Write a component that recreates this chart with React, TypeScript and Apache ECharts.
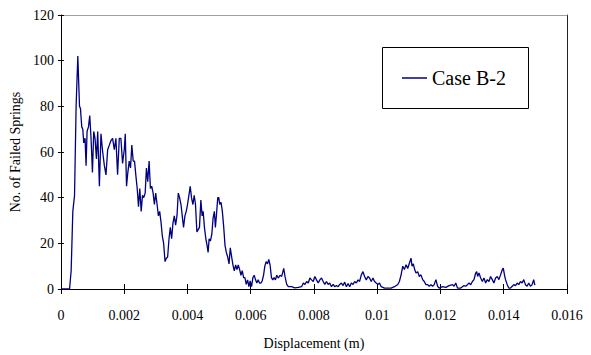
import React, { useEffect, useRef } from "react";
import * as echarts from "echarts";

// Displacement (m) at each sample
const displacement = [
  0, 0.000274, 0.000324, 0.000377, 0.000431, 0.000481, 0.000535, 0.000588, 0.00062, 0.000638,
  0.00066, 0.000692, 0.000723, 0.000764, 0.000796, 0.000827, 0.000871, 0.000912, 0.000953, 0.000997,
  0.001038, 0.001079, 0.001123, 0.001164, 0.001217, 0.001267, 0.001321, 0.001374, 0.001425, 0.001478,
  0.001531, 0.001582, 0.001635, 0.001689, 0.001739, 0.001792, 0.001846, 0.001896, 0.00195, 0.002003,
  0.002035, 0.002075, 0.002116, 0.00216, 0.002201, 0.002242, 0.002286, 0.002327, 0.002368, 0.002412,
  0.002453, 0.002494, 0.002538, 0.002579, 0.00262, 0.002664, 0.002704, 0.002745, 0.002789, 0.00283,
  0.002871, 0.002915, 0.002956, 0.002997, 0.003041, 0.003082, 0.003123, 0.003167, 0.003208, 0.003248,
  0.003292, 0.003333, 0.003374, 0.003418, 0.003459, 0.0035, 0.003544, 0.003585, 0.003626, 0.00367,
  0.003711, 0.003752, 0.003796, 0.003836, 0.003877, 0.003921, 0.003962, 0.004003, 0.004047, 0.004088,
  0.004129, 0.004173, 0.004214, 0.004255, 0.004299, 0.00434, 0.004381, 0.004425, 0.004465, 0.004497,
  0.004538, 0.004582, 0.004623, 0.004654, 0.004686, 0.004727, 0.004771, 0.004811, 0.004852, 0.004884,
  0.004915, 0.004959, 0.004991, 0.005022, 0.005063, 0.005104, 0.005148, 0.005189, 0.00523, 0.005274,
  0.005315, 0.005355, 0.005399, 0.00544, 0.005481, 0.005525, 0.005566, 0.005607, 0.005651, 0.005692,
  0.005733, 0.005777, 0.005818, 0.005859, 0.005903, 0.005943, 0.005984, 0.006028, 0.006069, 0.00611,
  0.006154, 0.006195, 0.006236, 0.00628, 0.006321, 0.006362, 0.006406, 0.006447, 0.006488, 0.006532,
  0.006572, 0.006613, 0.006657, 0.006698, 0.006739, 0.006783, 0.006824, 0.006878, 0.006928, 0.006981,
  0.007044, 0.007085, 0.007138, 0.007192, 0.007296, 0.00739, 0.007506, 0.00761, 0.007664, 0.007714,
  0.007767, 0.007821, 0.007871, 0.007925, 0.007978, 0.008028, 0.008082, 0.008135, 0.008186, 0.008239,
  0.008292, 0.008343, 0.008396, 0.00845, 0.0085, 0.008553, 0.008607, 0.008657, 0.008711, 0.008764,
  0.008814, 0.008868, 0.008921, 0.008972, 0.009025, 0.009079, 0.009129, 0.009182, 0.009236, 0.009286,
  0.00934, 0.009393, 0.009444, 0.009497, 0.00955, 0.009601, 0.009654, 0.009708, 0.009758, 0.009811,
  0.009865, 0.009915, 0.009969, 0.010022, 0.010072, 0.010126, 0.01023, 0.010337, 0.01044, 0.010544,
  0.010651, 0.010701, 0.010755, 0.010808, 0.010859, 0.010912, 0.010965, 0.011016, 0.011069, 0.011101,
  0.011142, 0.011186, 0.011226, 0.01128, 0.01133, 0.011384, 0.011437, 0.011487, 0.011541, 0.011594,
  0.011645, 0.011698, 0.011752, 0.011802, 0.011855, 0.011909, 0.011959, 0.012066, 0.01217, 0.012274,
  0.012381, 0.012431, 0.012484, 0.012538, 0.012642, 0.012745, 0.012799, 0.012852, 0.012903, 0.012956,
  0.01301, 0.01306, 0.013113, 0.013145, 0.013176, 0.013217, 0.013271, 0.013324, 0.013374, 0.013428,
  0.013481, 0.013532, 0.013585, 0.013638, 0.013689, 0.013742, 0.013796, 0.013846, 0.0139, 0.013953,
  0.013985, 0.014026, 0.014057, 0.01411, 0.014161, 0.014214, 0.014268, 0.014318, 0.014371, 0.014425,
  0.014475, 0.014528, 0.014582, 0.014632, 0.014686, 0.014739, 0.01479, 0.014843, 0.014896, 0.014947,
  0.014978, 0.015,
];

// Number of failed springs at each sample
const failedSprings = [
  0, 0, 8, 34, 41, 80, 102, 80, 79, 75,
  71, 70, 64, 66, 54, 69, 71, 76, 66, 51,
  69, 66, 57, 69, 45, 68, 60, 54, 50, 61,
  63, 65, 66, 61, 66, 50, 66, 66, 55, 61,
  68, 45, 51, 56, 53, 63, 56, 56, 50, 44,
  36, 44, 34, 41, 40, 42, 53, 47, 56, 44,
  45, 42, 37, 42, 37, 32, 34, 29, 23, 20,
  12, 13.5, 14, 22, 27, 22, 29, 32, 28, 32,
  42, 40, 37, 32, 27, 32, 34, 37, 41, 45,
  40, 37, 41, 37, 25, 26, 27, 39, 32, 34,
  27, 22, 19, 16, 22, 21, 24, 31, 34, 27,
  32, 40, 40, 37, 38, 34, 27, 19, 16, 14,
  11, 18, 14, 10.5, 8, 10.5, 8.5, 10.5, 8.5, 6,
  8, 5, 5, 2, 4, 1, 3.5, 1, 5, 6,
  4, 2.6, 4, 2.6, 2.6, 3.5, 6, 10, 12, 11,
  13, 10.5, 5, 4, 5, 4, 6, 4.8, 6, 5.5,
  9, 5.5, 2, 1, 1, 0.5, 0.7, 1, 2.6, 2,
  3.3, 2.6, 4.8, 4, 3.3, 5.5, 4, 2.6, 4, 4.8,
  3.3, 2, 3.3, 2, 2.6, 1, 2, 1, 1.5, 1,
  2, 2.6, 1.5, 3, 1, 2.4, 1, 2.6, 2, 3.3,
  2.6, 4, 3.3, 6.2, 7.6, 5.5, 4, 5.5, 4.8, 3.3,
  4.8, 3.3, 2.6, 2, 2.6, 1, 0.4, 0.4, 0.4, 1,
  2, 3.3, 6.2, 10, 8.5, 10.6, 9, 11.3, 13.5, 10,
  11, 8.4, 7, 7.6, 5.5, 6.2, 4.1, 3.3, 1.9, 1.9,
  1.2, 1.9, 1.2, 1.9, 4.1, 1.2, 0.4, 1, 0.7, 1.5,
  1.9, 1.2, 2.6, 0.4, 0.4, 1.5, 1.2, 1.9, 2.6, 1.9,
  3.3, 4.1, 7, 7.6, 5.5, 7, 4.8, 3.3, 4.8, 2.6,
  4.1, 3.3, 5.5, 4.1, 2.6, 4.8, 5.5, 4.1, 6.2, 8.4,
  9.1, 6, 4.1, 1.9, 0.4, 0.4, 1.2, 1.9, 1.5, 2.6,
  1.9, 3.3, 2.6, 4.1, 1.9, 1.2, 2.6, 1.2, 1.9, 4.1,
  1.9, 2,
];

const seriesName = "Case B-2";
const xTitle = "Displacement (m)";
const yTitle = "No. of Failed Springs";

const FONT = "Liberation Serif";
const LINE_COLOR = "#000080";

const fmtX = (v: number) => v.toFixed(3).replace(/\.?0+$/, "");

export default function App() {
  const ref = useRef<HTMLDivElement>(null);

  useEffect(() => {
    if (!ref.current) return;
    const chart = echarts.init(ref.current, undefined, { renderer: "svg" });

    const points = displacement.map((x, i) => [x, failedSprings[i]]);

    const xBase = { type: "value" as const, min: 0, max: 0.016, interval: 0.002 };
    const yBase = { type: "value" as const, min: 0, max: 120, interval: 20 };

    chart.setOption({
      animation: false,
      backgroundColor: "#ffffff",
      textStyle: { fontFamily: FONT },
      grid: { left: 58, right: 24, top: 15, bottom: 64, containLabel: false },
      xAxis: [
        {
          ...xBase,
          position: "bottom",
          name: xTitle,
          nameLocation: "middle",
          nameGap: 47,
          nameTextStyle: { fontFamily: FONT, fontSize: 14, color: "#000" },
          axisLine: { show: true, onZero: false, lineStyle: { color: "#000", width: 1 } },
          axisTick: { show: true, inside: false, length: 5, lineStyle: { color: "#000" } },
          axisLabel: { fontFamily: FONT, fontSize: 14, color: "#000", margin: 19, formatter: fmtX },
          splitLine: { show: false },
        },
        {
          ...xBase,
          position: "bottom",
          axisLine: { show: false, onZero: false },
          axisTick: { show: true, inside: true, length: 5, lineStyle: { color: "#000" } },
          axisLabel: { show: false },
          splitLine: { show: false },
        },
        {
          ...xBase,
          position: "top",
          axisLine: { show: true, onZero: false, lineStyle: { color: "#a0a0a0", width: 1 } },
          axisTick: { show: false },
          axisLabel: { show: false },
          splitLine: { show: false },
        },
      ],
      yAxis: [
        {
          ...yBase,
          position: "left",
          name: yTitle,
          nameLocation: "middle",
          nameGap: 30,
          nameTextStyle: { fontFamily: FONT, fontSize: 14, color: "#000" },
          axisLine: { show: true, onZero: false, lineStyle: { color: "#000", width: 1 } },
          axisTick: { show: true, inside: false, length: 3, lineStyle: { color: "#000" } },
          axisLabel: { fontFamily: FONT, fontSize: 14, color: "#000", margin: 7 },
          splitLine: { show: false },
        },
        {
          ...yBase,
          position: "left",
          axisLine: { show: false, onZero: false },
          axisTick: { show: true, inside: true, length: 3, lineStyle: { color: "#000" } },
          axisLabel: { show: false },
          splitLine: { show: false },
        },
        {
          ...yBase,
          position: "right",
          axisLine: { show: true, onZero: false, lineStyle: { color: "#222", width: 1 } },
          axisTick: { show: false },
          axisLabel: { show: false },
          splitLine: { show: false },
        },
      ],
      legend: {
        show: true,
        left: 402,
        top: 68,
        z: 10,
        icon: "rect",
        itemWidth: 25,
        itemHeight: 1.5,
        itemGap: 5,
        padding: 0,
        textStyle: { fontFamily: FONT, fontSize: 20, color: "#000" },
        data: [{ name: seriesName, itemStyle: { color: LINE_COLOR } }],
      },
      graphic: [
        {
          type: "rect",
          z: 1,
          shape: { x: 382.5, y: 47.5, width: 146, height: 61 },
          style: { fill: "#ffffff", stroke: "#000", lineWidth: 1 },
        },
      ],
      series: [
        {
          name: seriesName,
          type: "line",
          xAxisIndex: 0,
          yAxisIndex: 0,
          data: points,
          symbol: "none",
          lineStyle: { color: LINE_COLOR, width: 1.3 },
          itemStyle: { color: LINE_COLOR },
        },
      ],
    });

    return () => chart.dispose();
  }, []);

  return (
    <div
      ref={ref}
      style={{ position: "fixed", left: 0, top: 0, width: 591, height: 355, background: "#fff" }}
    />
  );
}
